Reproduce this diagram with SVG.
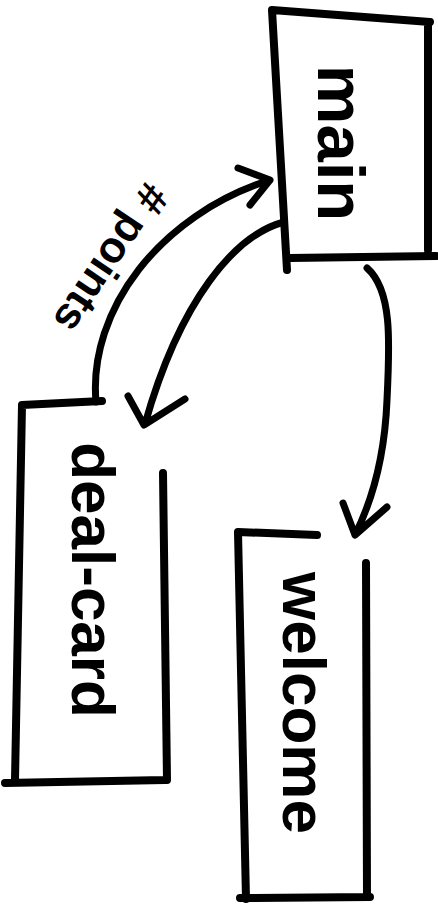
<svg xmlns="http://www.w3.org/2000/svg" width="438" height="921" viewBox="0 0 438 921">
<style>
.box{fill:none;stroke:#000;stroke-width:8;stroke-linecap:round;stroke-linejoin:round}
.edge{fill:none;stroke:#000;stroke-width:7;stroke-linecap:round;stroke-linejoin:round}
.lbl{font-family:"Liberation Sans",Arial,sans-serif;font-weight:bold;fill:#000;text-anchor:middle}
</style>
<rect width="438" height="921" fill="#fff"/>
<g id="main">
<path class="box" d="M272,10 L430,22 M428,22 L428,250 M290,258 L436,256 M272,10 L287,270"/>
<text class="lbl" font-size="67" transform="translate(318,143) rotate(90)">main</text>
</g>
<g id="deal-card">
<path class="box" d="M22,405 L102,401 M22,405 L15,780 M5,783 L165,780 M163,473 L167,780"/>
<text class="lbl" font-size="62" transform="translate(72,580) rotate(90)">deal-card</text>
</g>
<g id="welcome">
<path class="box" d="M238,532 L317,535 M238,532 L246,899 M240,898 L370,897 M366,563 L367,897"/>
<text class="lbl" font-size="62" transform="translate(283,703) rotate(90)">welcome</text>
</g>
<g id="connectors">
<path class="edge" d="M96,402 C88,310 160,215 270,180 M238,168 L270,180 L250,205"/>
<path class="edge" d="M284,222 C235,235 180,300 145,424 M128,396 L144,425 L185,399"/>
<path class="edge" d="M367,268 C392,290 390,340 387,400 C385,450 375,495 355,535 M343,503 L355,535 L387,507"/>
<text class="lbl" font-size="44" transform="translate(99,250) rotate(124)"># points</text>
</g>
</svg>
